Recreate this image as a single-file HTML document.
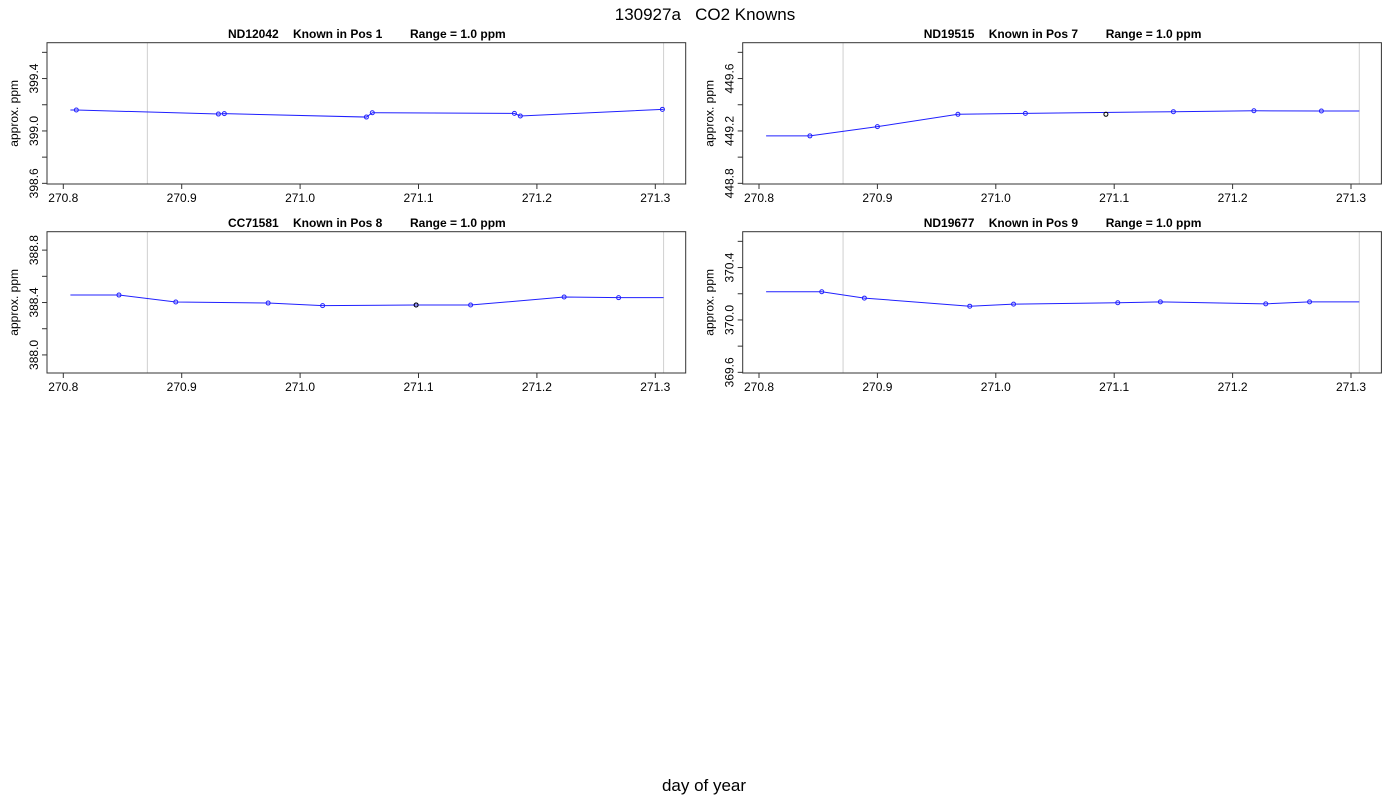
<!DOCTYPE html>
<html><head><meta charset="utf-8"><style>
body{margin:0;background:#fff;}
svg{display:block;font-family:"Liberation Sans",Arial,sans-serif;}
</style></head><body>
<svg id="chart" width="1400" height="800" viewBox="0 0 1400 800" xmlns="http://www.w3.org/2000/svg">
<rect width="1400" height="800" fill="#fff"/>
<text x="705" y="20" text-anchor="middle" font-size="17" xml:space="preserve">130927a   CO2 Knowns</text>
<text x="704" y="791" text-anchor="middle" font-size="17">day of year</text>
</svg>
<script>
// shared axis data
const xTicks = [270.8, 270.9, 271.0, 271.1, 271.2, 271.3];
const xTickLabels = ["270.8", "270.9", "271.0", "271.1", "271.2", "271.3"];
const vLines = [270.871, 271.307];
const lineStart = 270.806;
const lineEnd = 271.307;

// panel 1: ND12042
const p1Name = "ND12042", p1Pos = "Known in Pos 1", p1Range = "Range = 1.0 ppm";
const p1X = [270.811, 270.931, 270.936, 271.056, 271.061, 271.181, 271.186, 271.306];
const p1Y = [399.160, 399.129, 399.132, 399.106, 399.139, 399.134, 399.114, 399.165];
const p1YTicks = [398.6, 398.8, 399.0, 399.2, 399.4, 399.6];
const p1YLabels = ["398.6", "", "399.0", "", "399.4", ""];
const p1YMin = 398.595;
const p1Black = [];

// panel 2: ND19515
const p2Name = "ND19515", p2Pos = "Known in Pos 7", p2Range = "Range = 1.0 ppm";
const p2X = [270.843, 270.900, 270.968, 271.025, 271.150, 271.218, 271.275];
const p2Y = [449.162, 449.233, 449.327, 449.334, 449.347, 449.354, 449.352];
const p2YTicks = [448.8, 449.0, 449.2, 449.4, 449.6, 449.8];
const p2YLabels = ["448.8", "", "449.2", "", "449.6", ""];
const p2YMin = 448.795;
const p2BlackX = [271.093];
const p2BlackY = [449.327];

// panel 3: CC71581
const p3Name = "CC71581", p3Pos = "Known in Pos 8", p3Range = "Range = 1.0 ppm";
const p3X = [270.847, 270.895, 270.973, 271.019, 271.098, 271.144, 271.223, 271.269];
const p3Y = [388.457, 388.404, 388.396, 388.376, 388.381, 388.381, 388.442, 388.437];
const p3YTicks = [388.0, 388.2, 388.4, 388.6, 388.8];
const p3YLabels = ["388.0", "", "388.4", "", "388.8"];
const p3YMin = 387.862;
const p3BlackX = [271.098];
const p3BlackY = [388.381];

// panel 4: ND19677
const p4Name = "ND19677", p4Pos = "Known in Pos 9", p4Range = "Range = 1.0 ppm";
const p4X = [270.853, 270.889, 270.978, 271.015, 271.103, 271.139, 271.228, 271.265];
const p4Y = [370.215, 370.167, 370.105, 370.121, 370.131, 370.138, 370.123, 370.138];
const p4YTicks = [369.6, 369.8, 370.0, 370.2, 370.4, 370.6];
const p4YLabels = ["369.6", "", "370.0", "", "370.4", ""];
const p4YMin = 369.595;

const NS = "http://www.w3.org/2000/svg";
const svg = document.getElementById("chart");
function mk(tag, attrs, parent) {
  const e = document.createElementNS(NS, tag);
  for (const k in attrs) e.setAttribute(k, attrs[k]);
  (parent || svg).appendChild(e);
  return e;
}

function panel(id, left, top, name, pos, range, xs, ys, yTicks, yLabels, yMin, bx, by) {
  const right = left + 638.7, bottom = top + 141.3;
  const x0 = left + 16.3, pxPerX = 1184, pxPerY = 131;
  const sx = v => x0 + (v - 270.8) * pxPerX;
  const sy = v => bottom - (v - yMin) * pxPerY;
  const g = mk("g", {});
  
  

  // titles
  const t1 = mk("text", {x: left + 181, y: top - 4.5, "font-size": 12, "font-weight": "bold"}, g);
  t1.textContent = name;
  
  
  const t2 = mk("text", {x: left + 246, y: top - 4.5, "font-size": 12, "font-weight": "bold"}, g);
  t2.textContent = pos;
  
  
  const t3 = mk("text", {x: left + 363, y: top - 4.5, "font-size": 12, "font-weight": "bold"}, g);
  t3.textContent = range;
  
  

  // grey vertical lines
  vLines.forEach(v => {
    const l = mk("line", {x1: sx(v), x2: sx(v), y1: top, y2: bottom, stroke: "#d0d0d0", "stroke-width": 1}, g);
    
    
  });

  // box
  const box = mk("rect", {x: left, y: top, width: right - left, height: bottom - top, fill: "none", stroke: "#333", "stroke-width": 1}, g);
  
  

  // x ticks
  xTicks.forEach((v, i) => {
    const tk = mk("line", {x1: sx(v), x2: sx(v), y1: bottom, y2: bottom + 5, stroke: "#333"}, g);
    
    
    const tl = mk("text", {x: sx(v), y: bottom + 18, "text-anchor": "middle", "font-size": 12}, g);
    tl.textContent = xTickLabels[i];
    
    
  });

  // y ticks
  yTicks.forEach((v, i) => {
    const y = sy(v);
    if (y < top - 0.5 || y > bottom + 1) return;
    const tk = mk("line", {x1: left - 5, x2: left, y1: y, y2: y, stroke: "#333"}, g);
    
    
    if (yLabels[i]) {
      const tl = mk("text", {x: 0, y: 0, "text-anchor": "middle", "font-size": 12, transform: `translate(${left - 9},${y}) rotate(-90)`}, g);
      tl.textContent = yLabels[i];
      
      
    }
  });

  const yl = mk("text", {x: 0, y: 0, "text-anchor": "middle", "font-size": 12, transform: `translate(${left - 29},${(top + bottom) / 2}) rotate(-90)`}, g);
  yl.textContent = "approx. ppm";
  
  

  // series line
  const pts = [[sx(lineStart), sy(ys[0])]];
  xs.forEach((v, i) => pts.push([sx(v), sy(ys[i])]));
  pts.push([sx(lineEnd), sy(ys[ys.length - 1])]);
  const pl = mk("polyline", {points: pts.map(p => p.join(",")).join(" "), fill: "none", stroke: "#2020ff", "stroke-width": 1}, g);
  
  

  xs.forEach((v, i) => {
    const c = mk("circle", {cx: sx(v), cy: sy(ys[i]), r: 2, fill: "none", stroke: "#2020ff", "stroke-width": 1}, g);
    
    
  });
  bx.forEach((v, i) => {
    const c = mk("circle", {cx: sx(v), cy: sy(by[i]), r: 2, fill: "none", stroke: "#000", "stroke-width": 1}, g);
    
    
  });
}

panel("nd12042", 47, 42.7, p1Name, p1Pos, p1Range, p1X, p1Y, p1YTicks, p1YLabels, p1YMin, p1Black, p1Black);
panel("nd19515", 742.7, 42.7, p2Name, p2Pos, p2Range, p2X, p2Y, p2YTicks, p2YLabels, p2YMin, p2BlackX, p2BlackY);
panel("cc71581", 47, 231.7, p3Name, p3Pos, p3Range, p3X, p3Y, p3YTicks, p3YLabels, p3YMin, p3BlackX, p3BlackY);
panel("nd19677", 742.7, 231.7, p4Name, p4Pos, p4Range, p4X, p4Y, p4YTicks, p4YLabels, p4YMin, [], []);
</script>
</body></html>
